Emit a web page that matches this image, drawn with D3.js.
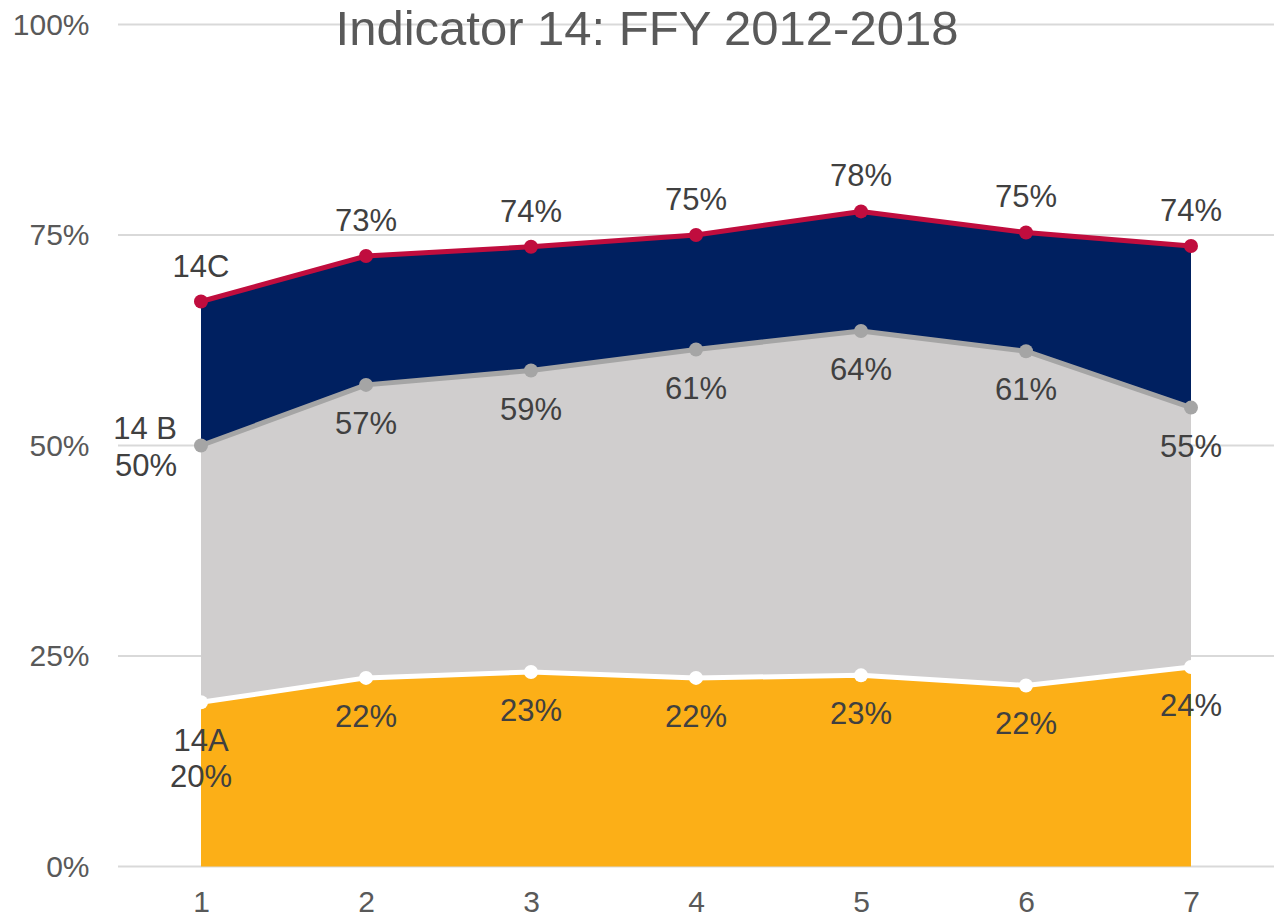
<!DOCTYPE html>
<html>
  <head>
    <meta charset="utf-8" />
    <title>Indicator 14</title>
    <script src="https://cdn.jsdelivr.net/npm/d3@7"></script>
    <style>
      body { margin: 0; background: #fff; }
      text { font-family: "Liberation Sans", Arial, sans-serif; }
    </style>
  </head>
  <body>
    <script>
// data (percent)
var years = [1, 2, 3, 4, 5, 6, 7];
var ind14A = [19.5, 22.4, 23.1, 22.4, 22.7, 21.5, 23.7];
var ind14B = [50.0, 57.2, 58.9, 61.4, 63.6, 61.2, 54.5];
var ind14C = [67.1, 72.5, 73.6, 75.0, 77.8, 75.3, 73.7];
var yTicks = [0, 25, 50, 75, 100];

var w = 1281, h = 919;
var svg = d3.select("body").append("svg")
  .attr("width", w).attr("height", h);

var x = d3.scaleLinear().domain([1, 7]).range([201, 1191]);
var y = d3.scaleLinear().domain([0, 100]).range([866.5, 24.5]);

// grid
svg.append("g").selectAll("line").data(yTicks).enter().append("line")
  .attr("x1", 118).attr("x2", 1274)
  .attr("y1", function(d) { return y(d); })
  .attr("y2", function(d) { return y(d); })
  .attr("stroke", "#d9d9d9").attr("stroke-width", 2);

// y axis labels
var yAxis = d3.axisLeft(y).tickValues(yTicks).tickSize(0).tickPadding(0)
  .tickFormat(function(d) { return d + "%"; });
svg.append("g").attr("transform", "translate(89.5,0)").call(yAxis)
  .call(function(g) { g.select(".domain").remove(); })
  .selectAll("text")
    .attr("font-size", 30).attr("fill", "#595959")
    .attr("font-family", "Liberation Sans, Arial, sans-serif");

// x axis labels
var xAxis = d3.axisBottom(x).tickValues(years).tickSize(0).tickPadding(0)
  .tickFormat(d3.format("d"));
svg.append("g").attr("transform", "translate(0,891)").call(xAxis)
  .call(function(g) { g.select(".domain").remove(); })
  .selectAll("text")
    .attr("dy", "0.71em")
    .attr("font-size", 30).attr("fill", "#595959")
    .attr("font-family", "Liberation Sans, Arial, sans-serif");

var rows = years.map(function(d, i) {
  return { yr: d, a: ind14A[i], b: ind14B[i], c: ind14C[i] };
});

var area = function(lo, hi) {
  return d3.area()
    .x(function(d) { return x(d.yr); })
    .y0(function(d) { return y(lo(d)); })
    .y1(function(d) { return y(hi(d)); });
};

svg.append("path").datum(rows).attr("fill", "#FCAF17")
  .attr("d", area(function() { return 0; }, function(d) { return d.a; }));
svg.append("path").datum(rows).attr("fill", "#D0CECE")
  .attr("d", area(function(d) { return d.a; }, function(d) { return d.b; }));
svg.append("path").datum(rows).attr("fill", "#002060")
  .attr("d", area(function(d) { return d.b; }, function(d) { return d.c; }));

var series = [
  { key: "a", vals: ind14A, color: "#ffffff" },
  { key: "b", vals: ind14B, color: "#A5A5A5" },
  { key: "c", vals: ind14C, color: "#C00D3E" }
];

var line = d3.line()
  .x(function(d, i) { return x(years[i]); })
  .y(function(d) { return y(d); });

series.forEach(function(s) {
  svg.append("path").datum(s.vals)
    .attr("fill", "none").attr("stroke", s.color)
    .attr("stroke-width", 5).attr("stroke-linejoin", "round")
    .attr("d", line);
  svg.append("g").selectAll("circle").data(s.vals).enter().append("circle")
    .attr("cx", function(d, i) { return x(years[i]); })
    .attr("cy", function(d) { return y(d); })
    .attr("r", 7)
    .attr("fill", s.color);
});

// data labels
var lab = svg.append("g")
  .attr("font-size", 31).attr("fill", "#404040");

function pct(d) { return Math.round(d) + "%"; }

// 14C above points
ind14C.forEach(function(d, i) {
  lab.append("text")
    .attr("x", x(years[i])).attr("y", y(d) - 25)
    .attr("text-anchor", "middle")
    .text(i === 0 ? "14C" : pct(d));
});

// 14B below points, first one left
ind14B.forEach(function(d, i) {
  if (i === 0) {
    lab.append("text").attr("x", x(years[i]) - 24).attr("y", y(d) - 7)
      .attr("text-anchor", "end").text("14 B");
    lab.append("text").attr("x", x(years[i]) - 24).attr("y", y(d) + 30)
      .attr("text-anchor", "end").text(pct(d));
  } else {
    lab.append("text").attr("x", x(years[i])).attr("y", y(d) + 49)
      .attr("text-anchor", "middle").text(pct(d));
  }
});

// 14A below points
ind14A.forEach(function(d, i) {
  if (i === 0) {
    lab.append("text").attr("x", x(years[i])).attr("y", y(d) + 49)
      .attr("text-anchor", "middle").text("14A");
    lab.append("text").attr("x", x(years[i])).attr("y", y(d) + 85)
      .attr("text-anchor", "middle").text(pct(d));
  } else {
    lab.append("text").attr("x", x(years[i])).attr("y", y(d) + 49)
      .attr("text-anchor", "middle").text(pct(d));
  }
});

// title
svg.append("text")
  .attr("x", 647).attr("y", 45)
  .attr("text-anchor", "middle")
  .attr("font-size", 49).attr("fill", "#595959")
  .text("Indicator 14: FFY 2012-2018");
    </script>
  </body>
</html>
